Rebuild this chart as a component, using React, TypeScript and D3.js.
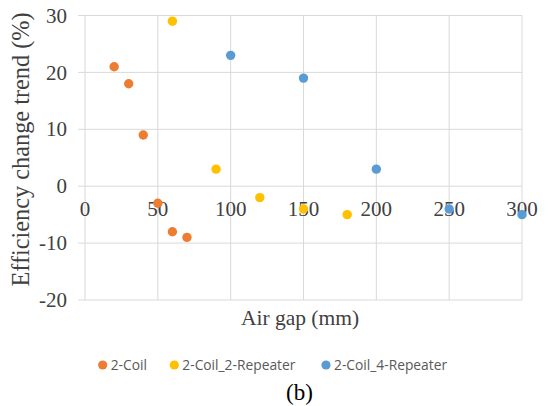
import React from "react";
import * as d3 from "d3";

// Air gap (mm) and efficiency change trend (%) per configuration
const coilGap = [20, 30, 40, 50, 60, 70];
const coilTrend = [21, 18, 9, -3, -8, -9];

const rep2Gap = [60, 90, 120, 150, 180];
const rep2Trend = [29, 3, -2, -4, -5];

const rep4Gap = [100, 150, 200, 250, 300];
const rep4Trend = [23, 19, 3, -4, -5];

const seriesNames = ["2-Coil", "2-Coil_2-Repeater", "2-Coil_4-Repeater"];
const seriesColors = ["#ED7D31", "#FFC000", "#5B9BD5"];

const xTicks = [0, 50, 100, 150, 200, 250, 300];
const yTicks = [-20, -10, 0, 10, 20, 30];

const W = 554;
const H = 406;
const left = 85;
const right = 522;
const top = 15.5;
const bottom = 300;

export default function App() {
  const x = d3.scaleLinear().domain([0, 300]).range([left, right]);
  const y = d3.scaleLinear().domain([-20, 30]).range([bottom, top]);

  const series = [
    { name: seriesNames[0], color: seriesColors[0], xs: coilGap, ys: coilTrend },
    { name: seriesNames[1], color: seriesColors[1], xs: rep2Gap, ys: rep2Trend },
    { name: seriesNames[2], color: seriesColors[2], xs: rep4Gap, ys: rep4Trend },
  ];

  const serif = "'Liberation Serif', 'Times New Roman', serif";
  const sans = "'Open Sans', 'Noto Sans', sans-serif";
  const grid = "#d9d9d9";

  // legend layout: dot centre per entry
  const legendDots = [102.7, 174.3, 326];

  return (
    <svg
      width={W}
      height={H}
      style={{ position: "absolute", left: 0, top: 0, background: "#fff" }}
    >
      {/* horizontal gridlines */}
      {yTicks.map((t) => (
        <line key={"gy" + t} x1={left} x2={right} y1={y(t)} y2={y(t)} stroke={grid} strokeWidth={1} />
      ))}
      {/* vertical gridlines */}
      {xTicks.map((t) => (
        <line key={"gx" + t} x1={x(t)} x2={x(t)} y1={top} y2={bottom} stroke={grid} strokeWidth={1} />
      ))}
      {/* y-axis tick marks */}
      {yTicks.map((t) => (
        <line key={"ty" + t} x1={left - 7} x2={left} y1={y(t)} y2={y(t)} stroke={grid} strokeWidth={1} />
      ))}
      {/* y tick labels */}
      {yTicks.map((t) => (
        <text
          key={"ly" + t}
          x={67}
          y={y(t)}
          dy="0.34em"
          textAnchor="end"
          fontFamily={serif}
          fontSize={21}
          fill="#404040"
        >
          {t}
        </text>
      ))}
      {/* x tick labels sit just below the zero line */}
      {xTicks.map((t) => (
        <text
          key={"lx" + t}
          x={x(t)}
          y={216}
          textAnchor="middle"
          fontFamily={serif}
          fontSize={21}
          fill="#404040"
        >
          {t}
        </text>
      ))}

      {/* data points */}
      {series.map((s) =>
        s.xs.map((g, i) => (
          <circle key={s.name + i} cx={x(g)} cy={y(s.ys[i])} r={4.7} fill={s.color} />
        ))
      )}

      {/* axis titles */}
      <text
        transform={`translate(29,149.5) rotate(-90)`}
        textAnchor="middle"
        fontFamily={serif}
        fontSize={24.3}
        fill="#404040"
      >
        Efficiency change trend (%)
      </text>
      <text x={300} y={325} textAnchor="middle" fontFamily={serif} fontSize={21.5} fill="#404040">
        Air gap (mm)
      </text>

      {/* legend */}
      {series.map((s, i) => (
        <g key={"lg" + i}>
          <circle cx={legendDots[i]} cy={365} r={4.6} fill={s.color} />
          <text
            x={legendDots[i] + 8}
            y={365}
            dy="0.36em"
            fontFamily={sans}
            fontSize={13.8}
            fill="#595959"
          >
            {s.name}
          </text>
        </g>
      ))}

      <text x={299.5} y={400} textAnchor="middle" fontFamily={serif} fontSize={23} fill="#000">
        (b)
      </text>
    </svg>
  );
}
